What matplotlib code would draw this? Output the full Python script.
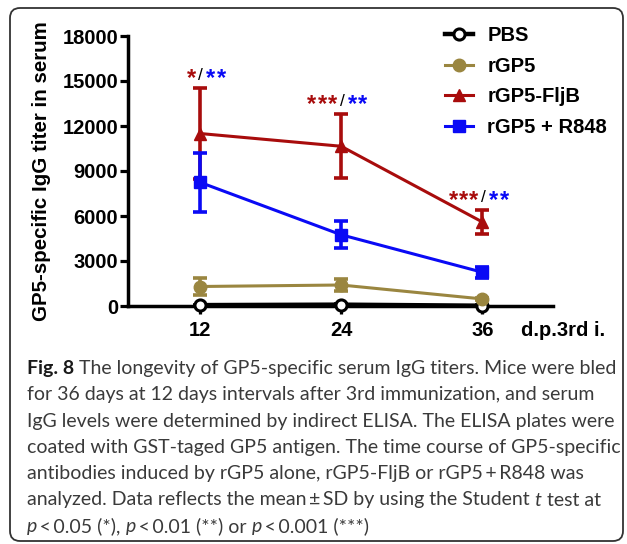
import matplotlib
matplotlib.use('Agg')
import matplotlib.pyplot as plt
from matplotlib.patches import FancyBboxPatch
from matplotlib.transforms import IdentityTransform

plt.rcParams['font.family'] = ['Liberation Sans', 'DejaVu Sans']

# ---------------- data ----------------
days = [12, 24, 36]
pbs_mean = [60, 90, 20]
pbs_sd = [30, 40, 20]
rgp5_mean = [1300, 1400, 470]
rgp5_sd = [550, 430, 80]
fljb_mean = [11500, 10650, 5600]
fljb_sd = [3050, 2120, 800]
r848_mean = [8250, 4750, 2250]
r848_sd = [1950, 900, 360]
sig_fljb = ['*', '***', '***']
sig_r848 = ['**', '**', '**']
series_names = ['PBS', 'rGP5', 'rGP5-FljB', 'rGP5 + R848']
yticks = [0, 3000, 6000, 9000, 12000, 15000, 18000]
xlabel_text = 'd.p.3rd i.'
ylabel_text = 'GP5-specific IgG titer in serum'

caption_lines = [
    [('Fig. 8', 'bold', 'normal'), (' The longevity of GP5-specific serum IgG titers. Mice were bled', 'normal', 'normal')],
    [('for 36 days at 12 days intervals after 3rd immunization, and serum', 'normal', 'normal')],
    [('IgG levels were determined by indirect ELISA. The ELISA plates were', 'normal', 'normal')],
    [('coated with GST-taged GP5 antigen. The time course of GP5-specific', 'normal', 'normal')],
    [('antibodies induced by rGP5 alone, rGP5-FljB or rGP5\u2009+\u2009R848 was', 'normal', 'normal')],
    [('analyzed. Data reflects the mean\u2009\u00b1\u2009SD by using the Student ', 'normal', 'normal'), ('t', 'normal', 'italic'), (' test at', 'normal', 'normal')],
    [('p', 'normal', 'italic'), ('\u2009<\u20090.05 (*), ', 'normal', 'normal'), ('p', 'normal', 'italic'),
     ('\u2009<\u20090.01 (**) or ', 'normal', 'normal'), ('p', 'normal', 'italic'), ('\u2009<\u20090.001 (***)', 'normal', 'normal')],
]

# ---------------- figure ----------------
W, H = 627, 544
fig = plt.figure(figsize=(W / 100, H / 100), dpi=100)

box = FancyBboxPatch((10, H - 541), 613, 533, boxstyle='round,pad=0,rounding_size=10',
                     transform=IdentityTransform(), facecolor='none', edgecolor='#333333', linewidth=1.3)
fig.patches.append(box)

ax = fig.add_axes([128 / W, 1 - 306 / H, (553 - 128) / W, (306 - 36) / H])

styles = [
    dict(color='black', marker='o', mfc='white', mec='black', mew=2.2, ms=8, lw=3.2),
    dict(color='#9A8640', marker='o', mfc='#9A8640', mec='#9A8640', mew=1, ms=9, lw=2.2),
    dict(color='#A80C0C', marker='^', mfc='#A80C0C', mec='#A80C0C', mew=1, ms=8.5, lw=2.2),
    dict(color='#0A0AF5', marker='s', mfc='#0A0AF5', mec='#0A0AF5', mew=1, ms=8, lw=2.2),
]
means = [pbs_mean, rgp5_mean, fljb_mean, r848_mean]
sds = [pbs_sd, rgp5_sd, fljb_sd, r848_sd]

handles = []
for i, (m, s, st, name) in enumerate(zip(means, sds, styles, series_names)):
    z = 3 + i
    ax.errorbar(days, m, yerr=s, fmt='none', ecolor=st['color'], elinewidth=2.6,
                capsize=5.2, capthick=2.6, zorder=z, clip_on=False)
    ln, = ax.plot(days, m, label=name, zorder=z + 0.5, clip_on=False, **st)
    handles.append(ln)

ax.set_xlim(5.9, 42)
ax.set_ylim(0, 18000)
ax.set_yticks(yticks)
ax.set_yticklabels([str(v) for v in yticks])
ax.set_xticks(days)
ax.set_xticklabels([str(d) for d in days])
for sp in ['top', 'right']:
    ax.spines[sp].set_visible(False)
for sp in ['left', 'bottom']:
    ax.spines[sp].set_linewidth(2.5)
ax.tick_params(direction='out', length=5.5, width=2.3, labelsize=14.5, pad=1.5)
ax.tick_params(axis='x', pad=5)
for lab in ax.get_xticklabels() + ax.get_yticklabels():
    lab.set_fontweight('bold')
ax.patch.set_visible(False)

ax.set_ylabel(ylabel_text, fontsize=14.8, fontweight='bold', labelpad=8)
fig.text(563 / W, 1 - 330 / H, xlabel_text, fontsize=14.5, fontweight='bold', ha='center', va='center')

ax.legend(handles, series_names, loc='upper left', bbox_to_anchor=(445 / W, 1 - 26 / H),
          bbox_transform=fig.transFigure, frameon=False, prop=dict(size=14.5, weight='bold'),
          handlelength=1.4, handletextpad=0.7, labelspacing=0.58, borderpad=0, borderaxespad=0,
          numpoints=1)

# significance marks
for x, mtop, r, b in zip(days, [fm + fs for fm, fs in zip(fljb_mean, fljb_sd)], sig_fljb, sig_r848):
    ax.annotate('/', xy=(x, mtop), xytext=(1, 8), textcoords='offset pixels', ha='center',
                va='baseline', fontsize=12.5, color='black', annotation_clip=False)
    for k in range(len(r)):
        ax.annotate('*', xy=(x, mtop), xytext=(-8.5 - 10.3 * k, 3), textcoords='offset pixels',
                    ha='center', va='baseline', fontsize=17, fontweight='bold', color='#A80C0C',
                    annotation_clip=False)
    for k in range(len(b)):
        ax.annotate('*', xy=(x, mtop), xytext=(11 + 10.8 * k, 3), textcoords='offset pixels',
                    ha='center', va='baseline', fontsize=17, fontweight='bold', color='#0A0AF5',
                    annotation_clip=False)

# caption
renderer = fig.canvas.get_renderer()
cap_family = ['Lato', 'DejaVu Sans']


def draw_line(segs, x_px, y_px, size, draw=True):
    x = x_px
    made = []
    for text, weight, style in segs:
        t = fig.text(x / W, 1 - y_px / H, text, fontsize=size, fontweight=weight, fontstyle=style,
                     family=cap_family, ha='left', va='baseline',
                     color='#1a1a1a' if weight == 'bold' else '#3a3a3a')
        bb = t.get_window_extent(renderer)
        x += bb.width
        made.append(t)
    if not draw:
        for t in made:
            t.remove()
    return x - x_px


w10 = draw_line(caption_lines[0], 27, 374, 10, draw=False)
cap_size = 10 * 588 / w10
for i, segs in enumerate(caption_lines):
    draw_line(segs, 27, 374 + 26.3 * i, cap_size)

fig.savefig('out.png', dpi=100)
